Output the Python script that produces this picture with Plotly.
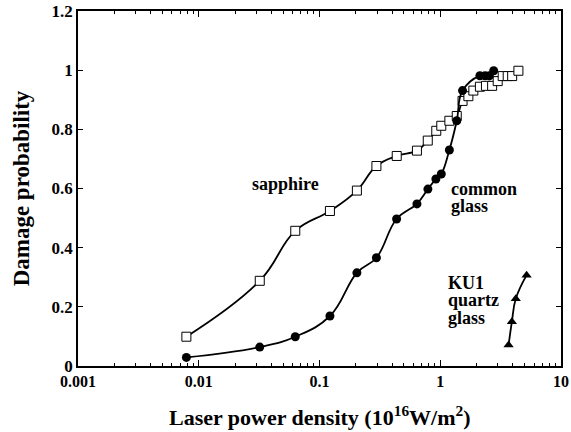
import plotly.graph_objects as go

# ---- data ----
sapphire_x = [0.0079, 0.032, 0.063, 0.122, 0.204, 0.296, 0.436, 0.641, 0.788, 0.927,
              1.02, 1.19, 1.37, 1.53, 1.71, 1.88, 2.13, 2.39, 2.69, 2.99, 3.29, 3.62,
              3.94, 4.44]
sapphire_y = [0.099, 0.288, 0.457, 0.524, 0.593, 0.676, 0.710, 0.728, 0.762, 0.795,
              0.812, 0.829, 0.845, 0.896, 0.912, 0.931, 0.944, 0.947, 0.947, 0.963,
              0.980, 0.980, 0.980, 0.998]

glass_x = [0.0079, 0.032, 0.063, 0.122, 0.204, 0.296, 0.435, 0.641, 0.79, 0.92,
           1.02, 1.19, 1.37, 1.53, 2.13, 2.35, 2.55, 2.77]
glass_y = [0.029, 0.064, 0.099, 0.169, 0.315, 0.366, 0.497, 0.548, 0.598, 0.632,
           0.649, 0.730, 0.829, 0.931, 0.981, 0.981, 0.981, 0.998]

quartz_x = [3.68, 3.92, 4.22, 5.19]
quartz_y = [0.071, 0.150, 0.227, 0.307]

x_tickvals = [0.001, 0.01, 0.1, 1, 10]
x_ticktext = ["0.001", "0.01", "0.1", "1", "10"]
y_tickvals = [0, 0.2, 0.4, 0.6, 0.8, 1.0, 1.2]
y_ticktext = ["0", "0.2", "0.4", "0.6", "0.8", "1", "1.2"]

FONT = "Liberation Serif"

fig = go.Figure()
fig.add_trace(go.Scatter(
    x=sapphire_x, y=sapphire_y, mode="lines+markers",
    line=dict(color="black", width=1.8, shape="spline", smoothing=1.2),
    marker=dict(symbol="square", size=9, color="white",
                line=dict(color="black", width=1)),
    name="sapphire", showlegend=False))
fig.add_trace(go.Scatter(
    x=glass_x, y=glass_y, mode="lines+markers",
    line=dict(color="black", width=1.8, shape="spline", smoothing=1.2),
    marker=dict(symbol="circle", size=9, color="black"),
    name="common glass", showlegend=False))
fig.add_trace(go.Scatter(
    x=quartz_x, y=quartz_y, mode="lines+markers",
    line=dict(color="black", width=1.8, shape="spline", smoothing=1.2),
    marker=dict(symbol="triangle-up", size=9, color="black"),
    name="KU1 quartz glass", showlegend=False))

ann_font = dict(family=FONT, size=18, color="black")
def lab(text, x, y, anchor="left"):
    fig.add_annotation(text="<b>%s</b>" % text, xref="paper", yref="paper",
                       x=x, y=y, xanchor=anchor, yanchor="middle",
                       showarrow=False, font=ann_font, borderpad=0)

lab("sapphire", 0.43, 0.513, "center")
lab("common", 0.770, 0.499)
lab("glass", 0.770, 0.451)
lab("KU1", 0.764, 0.233)
lab("quartz", 0.764, 0.185)
lab("glass", 0.764, 0.134)

# x-axis title placed below the tick labels
fig.add_annotation(text="<b>Laser power density (10<sup>16</sup>W/m<sup>2</sup>)</b>",
                   xref="paper", yref="paper", x=0.5, y=-0.142,
                   xanchor="center", yanchor="middle", showarrow=False,
                   font=dict(family=FONT, size=22, color="black"))

fig.update_layout(
    width=571, height=432,
    margin=dict(l=78, r=10, t=11, b=66),
    paper_bgcolor="white", plot_bgcolor="white",
    font=dict(family=FONT, color="black"),
    xaxis=dict(
        type="log", range=[-3, 1], automargin=False,
        tickvals=x_tickvals, ticktext=["<b>%s</b>" % t for t in x_ticktext],
        tickfont=dict(family=FONT, size=16, color="black"),
        ticks="inside", ticklen=6, tickwidth=1, tickcolor="black",
        minor=dict(ticks="inside", ticklen=3, tickwidth=1, tickcolor="black",
                   dtick="D1", showgrid=False),
        showline=True, linecolor="black", linewidth=1.5, mirror="ticks",
        showgrid=False, zeroline=False,
    ),
    yaxis=dict(
        range=[0, 1.2], automargin=False,
        tickvals=y_tickvals, ticktext=["<b>%s</b>" % t for t in y_ticktext],
        tickfont=dict(family=FONT, size=17, color="black"),
        ticks="inside", ticklen=5, tickwidth=1, tickcolor="black",
        showline=True, linecolor="black", linewidth=1.5, mirror="ticks",
        showgrid=False, zeroline=False,
        title=dict(text="<b>Damage probability</b>",
                   font=dict(family=FONT, size=23, color="black"), standoff=16),
    ),
)

fig.write_html("out.html", config={"displayModeBar": False},
               post_script="document.body.style.margin='0';document.body.style.padding='0';")
